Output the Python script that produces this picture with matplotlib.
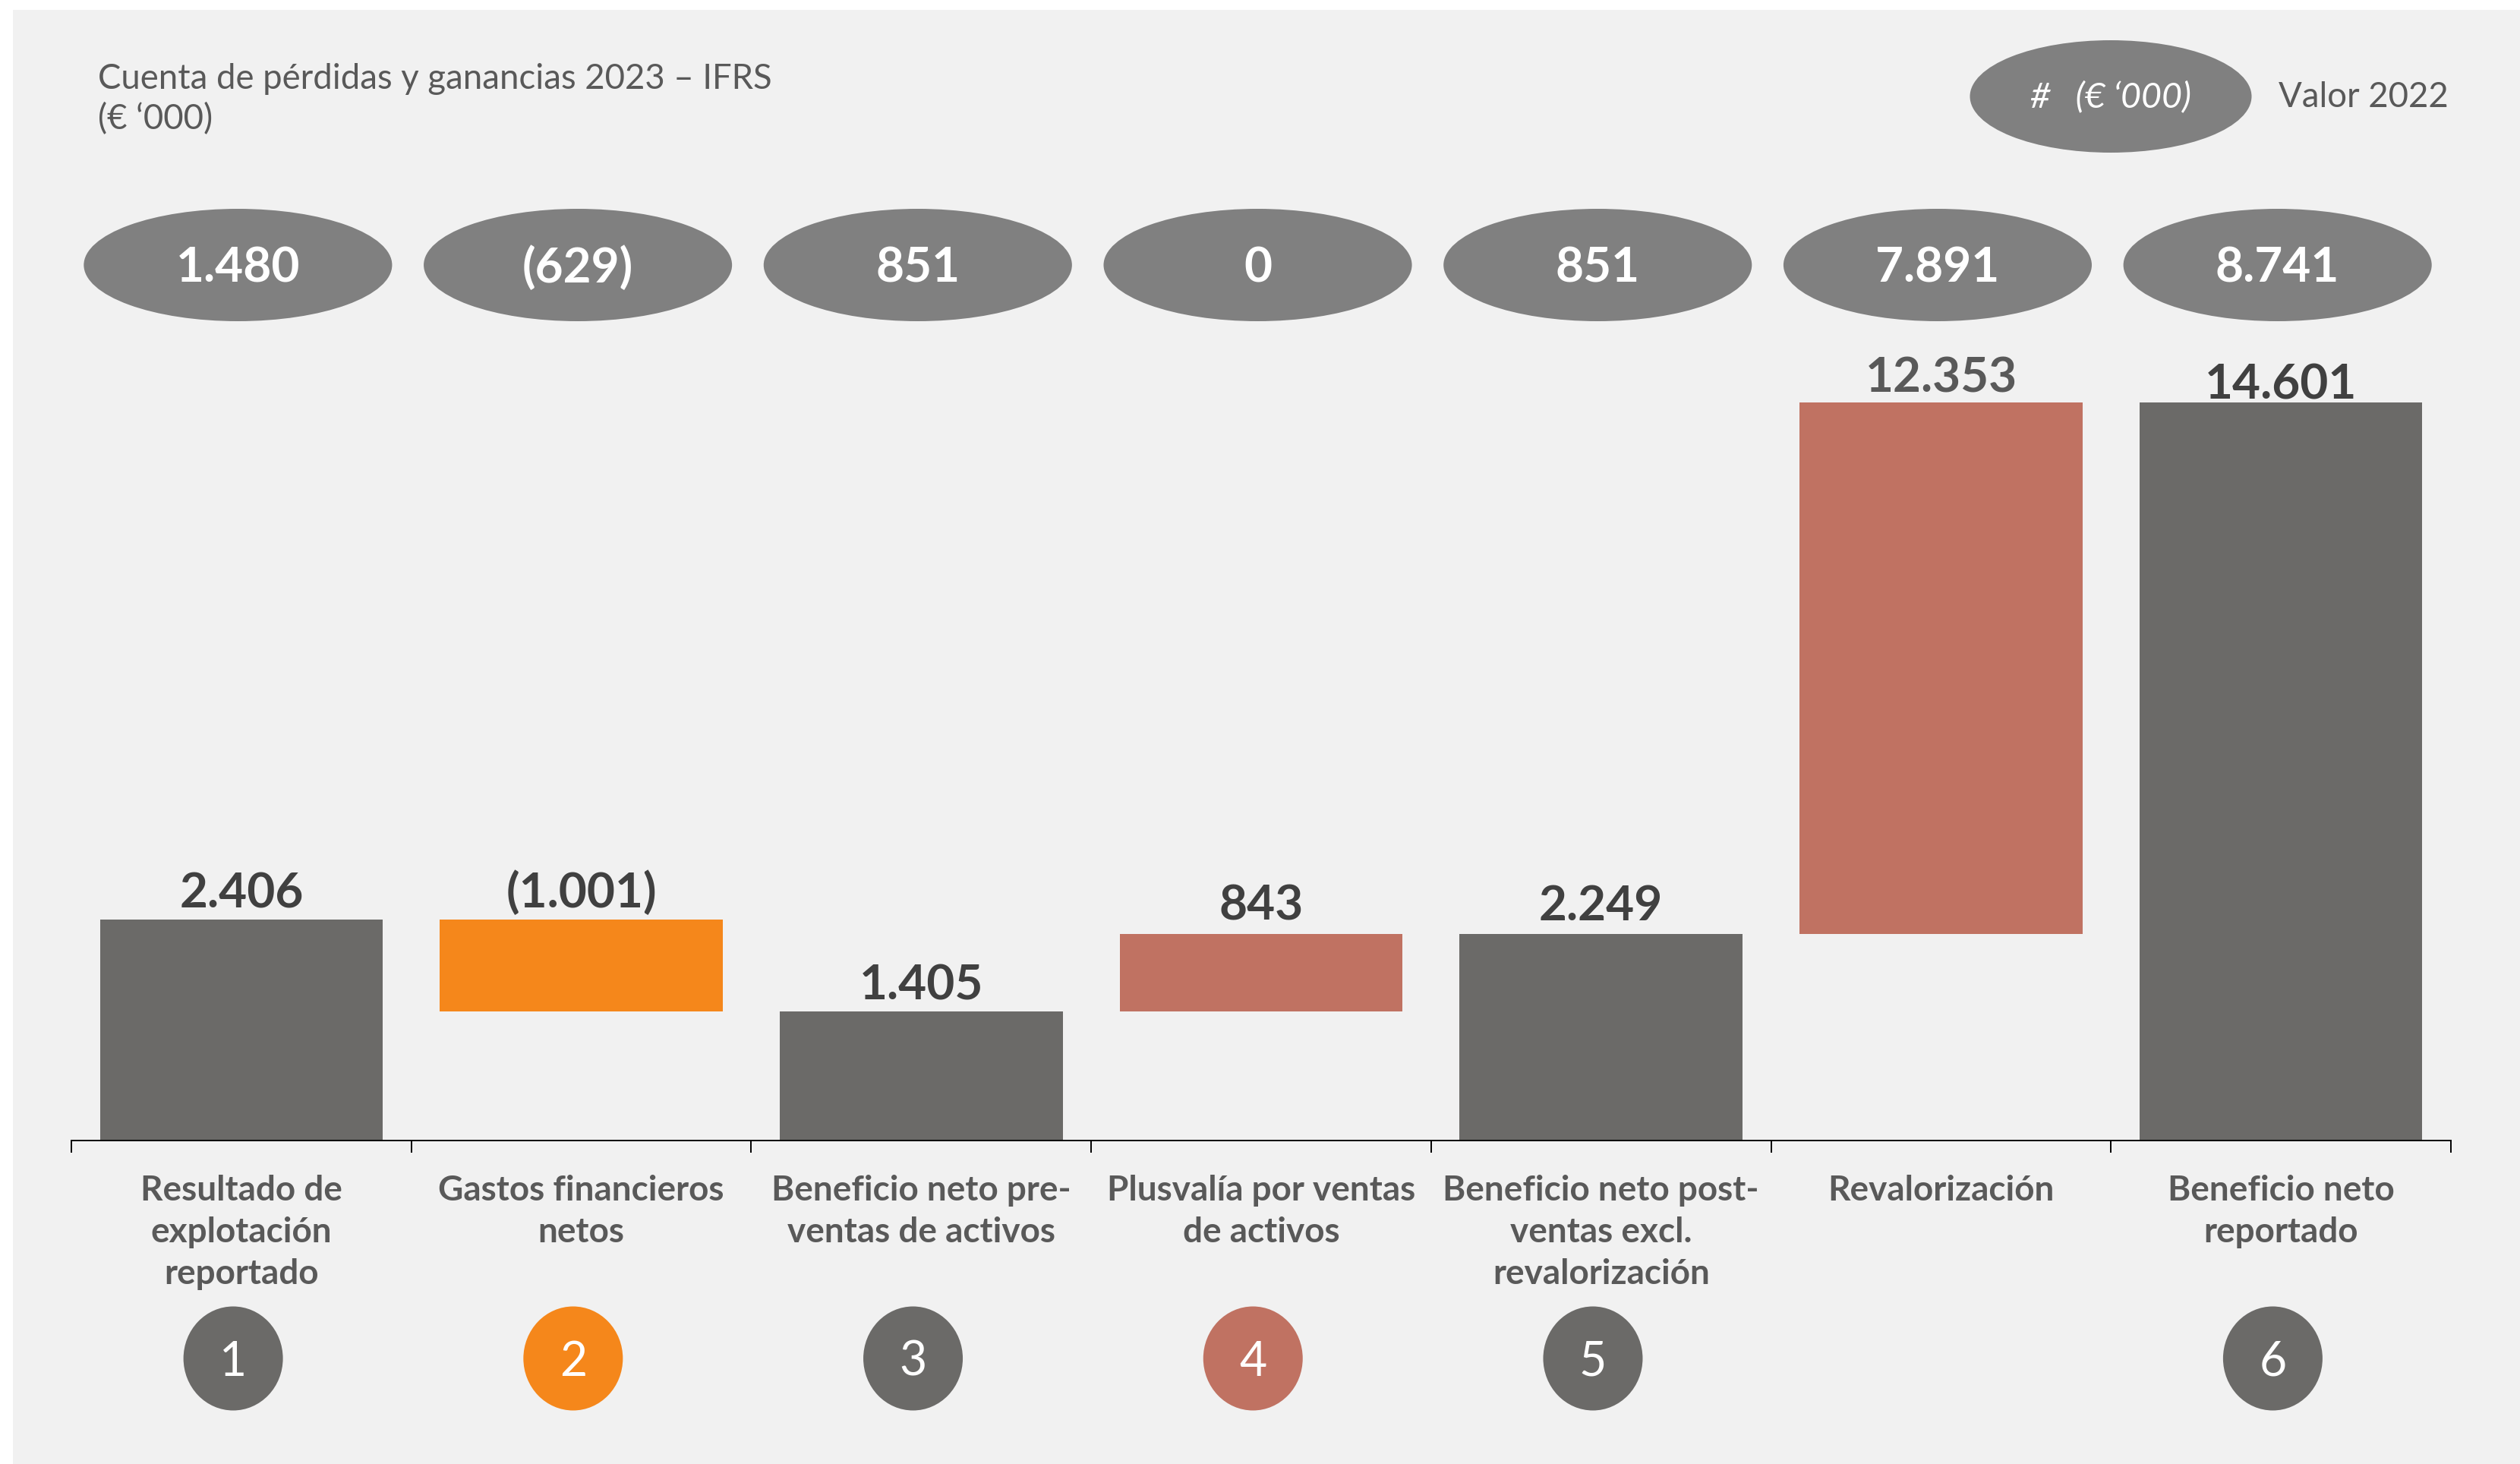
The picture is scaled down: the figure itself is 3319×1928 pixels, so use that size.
import matplotlib
matplotlib.use("Agg")
import matplotlib.pyplot as plt
import matplotlib.patches as patches
import matplotlib.transforms as mtransforms
import numpy as np

plt.rcParams['font.family'] = ['Lato', 'DejaVu Sans']

# --- data (€ '000) ---
categories = [
    "Resultado de\nexplotación\nreportado",
    "Gastos financieros\nnetos",
    "Beneficio neto pre-\nventas de activos",
    "Plusvalía por ventas\nde activos",
    "Beneficio neto post-\nventas excl.\nrevalorización",
    "Revalorización",
    "Beneficio neto\nreportado",
]
values_2023 = [2406, -1001, 1405, 843, 2249, 12353, 14601]
is_total = [True, False, True, False, True, False, True]
values_2022 = [1480, -629, 851, 0, 851, 7891, 8741]
step_numbers = ["1", "2", "3", "4", "5", "", "6"]

# --- styling ---
GRAY = '#6B6A68'
ORANGE = '#F5871B'
TERRA = '#C07262'
PILL = '#808080'
TEXT = '#595959'
DARK = '#404040'
BG = '#F1F1F1'
bar_colors = [GRAY, ORANGE, GRAY, TERRA, GRAY, TERRA, GRAY]

W, H = 3319, 1928
DPI = 200


def fx(px):
    return px / W


def fy(px):
    return 1 - px / H


def fmt(v):
    s = f"{abs(v):,}".replace(",", ".")
    return f"({s})" if v < 0 else s


# compressed scale above the first bar so the large revaluation fits
SCALE_BREAK = 2406
SCALE_RATIO = 0.462


def fwd(y):
    y = np.asarray(y, dtype=float)
    return np.where(y <= SCALE_BREAK, y, SCALE_BREAK + (y - SCALE_BREAK) * SCALE_RATIO)


def inv(y):
    y = np.asarray(y, dtype=float)
    return np.where(y <= SCALE_BREAK, y, SCALE_BREAK + (y - SCALE_BREAK) / SCALE_RATIO)


# waterfall geometry
bottoms, heights = [], []
running = 0
for v, tot in zip(values_2023, is_total):
    if tot:
        bottoms.append(0)
        heights.append(v)
        running = v
    else:
        bottoms.append(running + min(v, 0))
        heights.append(abs(v))
        running += v
tops = [b + h for b, h in zip(bottoms, heights)]

fig = plt.figure(figsize=(W / DPI, H / DPI), dpi=DPI, facecolor='white')
fig.add_artist(patches.Rectangle((fx(17), 0), 1, fy(13), transform=fig.transFigure,
                                 facecolor=BG, edgecolor='none', zorder=0))

ax = fig.add_axes([fx(94), 1 - 1502 / H, fx(3134), (1502 - 530) / H])
ax.set_facecolor('none')
ax.set_yscale('function', functions=(fwd, inv))

x = np.arange(len(categories))
ax.bar(x, heights, bottom=bottoms, width=0.832, color=bar_colors, zorder=2)
ax.set_xlim(-0.5, len(categories) - 0.5)
ax.set_ylim(0, max(tops))

for s in ['left', 'right', 'top']:
    ax.spines[s].set_visible(False)
ax.spines['bottom'].set_color('black')
ax.spines['bottom'].set_linewidth(0.7)
ax.yaxis.set_visible(False)

ax.set_xticks(x, labels=categories)
ax.set_xticks(np.arange(-0.5, len(categories), 1), minor=True)
ax.tick_params(axis='x', which='major', length=0, pad=16.3)
ax.tick_params(axis='x', which='minor', length=5.8, width=0.7, color='black', direction='out')
for lbl in ax.get_xticklabels():
    lbl.set_fontsize(16.5)
    lbl.set_fontweight('bold')
    lbl.set_color(TEXT)
    lbl.set_linespacing(1.38)

# value labels on top of each bar
label_colors = [DARK, DARK, DARK, DARK, DARK, TEXT, DARK]
label_offsets = [5.8, 5.8, 5.8, 6.6, 6.6, 5.0, 1.5]
for xi, top, v, c, off in zip(x, tops, values_2023, label_colors, label_offsets):
    ax.annotate(fmt(v), (xi, top), xytext=(0, off), textcoords='offset points',
                ha='center', va='baseline', fontsize=23, fontweight='bold', color=c)

trans = mtransforms.blended_transform_factory(ax.transData, fig.transFigure)

# prior-year pills
for xi, v in zip(x, values_2022):
    ax.add_patch(patches.Ellipse((xi - 0.01, fy(349)), 0.907, 148 / H, transform=trans,
                                 facecolor=PILL, edgecolor='none', clip_on=False))
    ax.text(xi - 0.01, fy(372), fmt(v), transform=trans, ha='center', va='baseline',
            fontsize=23, fontweight='bold', color='white')

# step markers
for xi, num, c in zip(x, step_numbers, bar_colors):
    if not num:
        continue
    ax.add_patch(patches.Ellipse((xi - 0.024, fy(1789)), 0.2926, 137 / H, transform=trans,
                                 facecolor=c, edgecolor='none', clip_on=False))
    ax.text(xi - 0.024, fy(1812), num, transform=trans, ha='center', va='baseline',
            fontsize=22.5, color='white')

# title
fig.text(fx(129), fy(117), "Cuenta de pérdidas y ganancias 2023 – IFRS",
         ha='left', va='baseline', fontsize=16.4, color=TEXT)
fig.text(fx(129), fy(170), "(€ ‘000)", ha='left', va='baseline', fontsize=16.4, color=TEXT)

# legend
fig.add_artist(patches.Ellipse((fx(2780), fy(127)), fx(371), 148 / H, transform=fig.transFigure,
                               facecolor=PILL, edgecolor='none'))
fig.text(fx(2780), fy(141), "#   (€ ‘000)", ha='center', va='baseline', fontsize=16.8,
         style='italic', color='white')
fig.text(fx(3001), fy(141), "Valor 2022", ha='left', va='baseline', fontsize=16.4, color=TEXT)

fig.savefig("out.png", dpi=DPI, facecolor=fig.get_facecolor())
